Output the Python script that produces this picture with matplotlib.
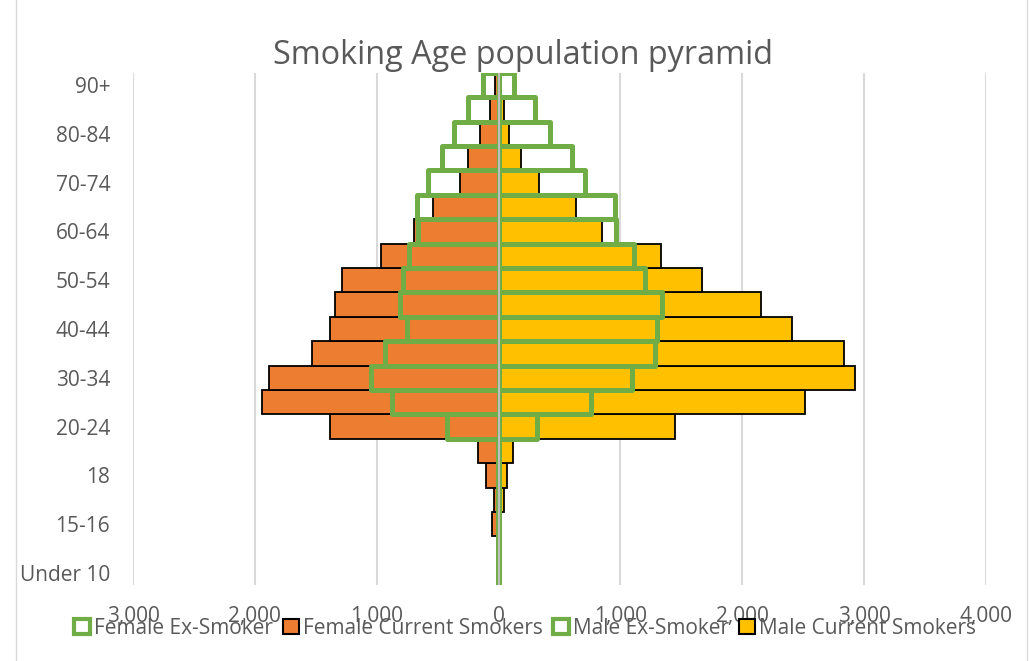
import matplotlib.pyplot as plt
from matplotlib.lines import Line2D
from matplotlib.patches import Patch
from matplotlib.ticker import FuncFormatter, MultipleLocator

# age bands, bottom to top
categories = ["Under 10", "11-14", "15-16", "17", "18", "19", "20-24", "25-29",
              "30-34", "35-39", "40-44", "45-49", "50-54", "55-59", "60-64",
              "65-69", "70-74", "75-79", "80-84", "85-89", "90+"]

female_ex = [5, 5, 5, 5, 5, 5, 424, 878, 1048, 936, 750, 810, 782, 733,
             665, 670, 580, 462, 364, 254, 131]
female_current = [0, 0, 54, 41, 104, 172, 1382, 1938, 1888, 1532, 1385,
                  1346, 1286, 966, 694, 539, 314, 254, 153, 74, 33]
male_ex = [5, 5, 5, 5, 5, 5, 312, 761, 1092, 1284, 1303, 1341, 1202, 1108,
           963, 953, 709, 602, 422, 301, 123]
male_current = [0, 0, 10, 48, 70, 122, 1451, 2518, 2929, 2838, 2406, 2151,
                1670, 1336, 851, 632, 334, 181, 82, 47, 20]

ORANGE = "#ED7D31"
YELLOW = "#FFC000"
GREEN = "#70AD47"
TEXT = "#595959"
GRID = "#D9D9D9"

plt.rcParams['font.family'] = ['Open Sans', 'DejaVu Sans']

fig = plt.figure(figsize=(10.29, 6.61), dpi=100)
ax = fig.add_axes([0.1293, 0.1147, 0.8289, 0.7752])

y = list(range(len(categories)))

# current smokers: filled bars, females to the left
ax.barh(y, [-v for v in female_current], height=1.0, color=ORANGE,
        edgecolor="black", linewidth=1.3, zorder=2)
ax.barh(y, male_current, height=1.0, color=YELLOW,
        edgecolor="black", linewidth=1.3, zorder=2)

# ex-smokers: green outlines drawn over the top
ax.barh(y, [-v for v in female_ex], height=1.0, facecolor="none",
        edgecolor=GREEN, linewidth=3.6, joinstyle="round", zorder=3)
ax.barh(y, male_ex, height=1.0, facecolor="none",
        edgecolor=GREEN, linewidth=3.6, joinstyle="round", zorder=3)

ax.axvline(0, color="#BFBFBF", linewidth=1.5, zorder=4)

ax.set_xlim(-3000, 4000)
ax.set_ylim(-0.5, len(categories) - 0.5)
ax.xaxis.set_major_locator(MultipleLocator(1000))
ax.xaxis.set_major_formatter(FuncFormatter(lambda v, p: f"{abs(v):,.0f}"))
ax.set_yticks(y[::2])
ax.set_yticklabels(categories[::2])
ax.tick_params(axis="both", length=0, labelsize=15, labelcolor=TEXT)
ax.tick_params(axis="y", pad=16.5)
ax.tick_params(axis="x", pad=15)
ax.grid(axis="x", color=GRID, linewidth=1.5, zorder=0)
ax.set_axisbelow(True)
for s in ax.spines.values():
    s.set_visible(False)

fig.text(0.508, 1 - 64 / 661, "Smoking Age population pyramid", ha="center",
         va="baseline", fontsize=23.3, color=TEXT)

handles = [
    Patch(facecolor="white", edgecolor=GREEN, linewidth=3, joinstyle="round", label="Female Ex-Smoker"),
    Patch(facecolor=ORANGE, edgecolor="black", linewidth=1.5, label="Female Current Smokers"),
    Patch(facecolor="white", edgecolor=GREEN, linewidth=3, joinstyle="round", label="Male Ex-Smoker"),
    Patch(facecolor=YELLOW, edgecolor="black", linewidth=1.5, label="Male Current Smokers"),
]
fig.legend(handles=handles, loc="center", bbox_to_anchor=(525 / 1029, 1 - 628 / 661),
           ncol=4, frameon=False, fontsize=15, labelcolor=TEXT,
           handlelength=0.75, handleheight=0.75, handletextpad=0.2, columnspacing=0.5)

# chart frame edges
for fx in (16 / 1029, 1027 / 1029):
    fig.add_artist(Line2D([fx, fx], [0, 1], transform=fig.transFigure,
                          color=GRID, linewidth=1))

fig.savefig("out.png", dpi=100)
